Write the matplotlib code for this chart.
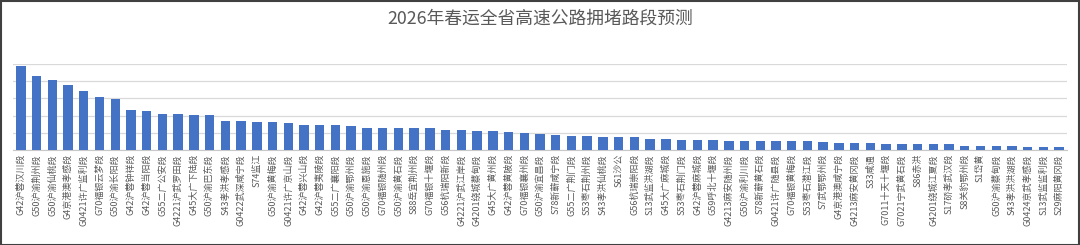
import matplotlib
matplotlib.use("Agg")
import matplotlib.pyplot as plt
from matplotlib.patches import Rectangle

plt.rcParams['font.family'] = ['Noto Sans CJK SC', 'DejaVu Sans']

# road sections, in chart order
sections = [
    "G42沪蓉汉川段", "G50沪渝荆州段", "G50沪渝仙桃段", "G4京港澳孝感段", "G0421许广监利段",
    "G70福银云梦段", "G50沪渝长阳段", "G42沪蓉钟祥段", "G42沪蓉当阳段", "G55二广公安段",
    "G4221沪武罗田段", "G45大广下陆段", "G50沪渝巴东段", "S43孝洪孝感段", "G0422武深咸宁段",
    "S74监江", "G50沪渝黄梅段", "G0421许广京山段", "G42沪蓉兴山段", "G42沪蓉夷陵段",
    "G55二广襄阳段", "G50沪渝鄂州段", "G50沪渝恩施段", "G70福银随州段", "G50沪渝黄石段",
    "S88岳宜荆州段", "G70福银十堰段", "G56杭瑞阳新段", "G4221沪武江岸段", "G4201绕城蔡甸段",
    "G45大广黄州段", "G42沪蓉黄陂段", "G70福银襄州段", "G50沪渝宜昌段", "S78新蕲咸宁段",
    "G55二广荆门段", "S53枣石荆州段", "S43孝洪仙桃段", "S61沙公", "G56杭瑞崇阳段",
    "S13武监洪湖段", "G45大广麻城段", "S53枣石荆门段", "G42沪蓉麻城段", "G59呼北十堰段",
    "G4213麻安随州段", "G50沪渝利川段", "S78新蕲黄石段", "G0421许广随县段", "G70福银黄梅段",
    "S53枣石潜江段", "S7武鄂鄂州段", "G4京港澳咸宁段", "G4213麻安黄冈段", "S33咸通",
    "G7011十天十堰段", "G7021宁武黄石段", "S86赤洪", "G4201绕城江夏段", "S17硚孝武汉段",
    "S8关豹鄂州段", "S1岱黄", "G50沪渝蔡甸段", "S43孝洪洪湖段", "G0424京武孝感段",
    "S13武监监利段", "S29麻阳黄冈段",
]

# estimated values (grid step = 20)
values = [
    98, 86, 81, 75, 69, 62, 59, 46, 45, 42,
    42, 41, 41, 34, 34, 33, 33, 31, 29, 29,
    29, 28, 26, 26, 25, 25, 25, 23, 23, 22,
    22, 21, 20, 19, 17, 16, 16, 15, 15, 15,
    13, 13, 12, 12, 11, 10, 10, 10, 10, 10,
    10, 9, 8, 8, 8, 7, 7, 7, 7, 7,
    5, 5, 5, 5, 4, 4, 4,
]

title = "2026年春运全省高速公路拥堵路段预测"

fig = plt.figure(figsize=(10.8, 2.45), dpi=100)
ax = fig.add_axes([0.012, 0.388, 0.976, 0.351])

x = range(len(sections))
ax.bar(x, values, width=0.6, color="#4472C4", zorder=3)

ax.set_ylim(0, 100)
ax.set_yticks([0, 20, 40, 60, 80, 100])
ax.set_yticklabels([])
ax.tick_params(axis="y", length=0)
ax.grid(axis="y", color="#D9D9D9", linewidth=0.9, zorder=0)

ax.set_xlim(-0.5, len(sections) - 0.5)
ax.set_xticks(list(x))
ax.set_xticklabels(sections, rotation=90, fontsize=6.5, color="#595959")
ax.tick_params(axis="x", length=0, pad=3)

for side in ["top", "left", "right"]:
    ax.spines[side].set_visible(False)
ax.spines["bottom"].set_color("#C8C8C8")

fig.text(0.5, 0.922, title, ha="center", va="center", fontsize=12.8, color="#595959")

# outer frame
fig.patches.append(Rectangle((0.001, 0.002), 0.998, 0.995, transform=fig.transFigure,
                             fill=False, edgecolor="#404040", linewidth=1.5))

fig.savefig("out.png", dpi=100)
